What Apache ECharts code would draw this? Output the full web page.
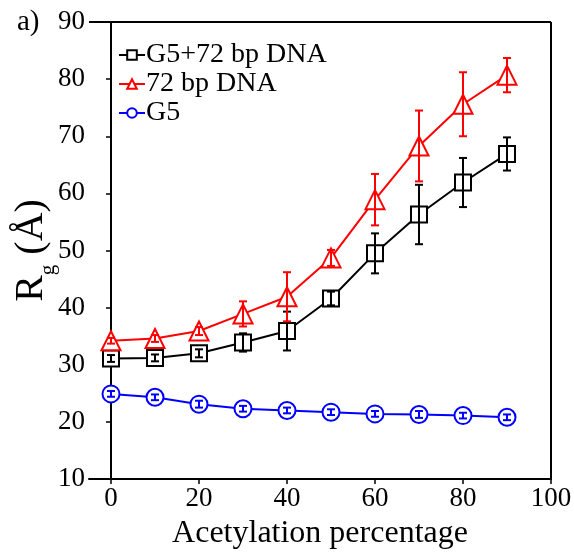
<!DOCTYPE html>
<html>
<head>
<meta charset="utf-8">
<script src="https://cdn.jsdelivr.net/npm/echarts@6/dist/echarts.min.js"></script>
<style>html,body{margin:0;padding:0;background:#fff;}#c{width:574px;height:552px;}</style>
</head>
<body>
<div id="c"></div>
<script>
const xValues = [0, 10, 20, 30, 40, 50, 60, 70, 80, 90];
const g5dna = [31.1, 31.2, 32.0, 33.9, 35.9, 41.6, 49.5, 56.3, 61.9, 66.9];
const g5dnaErr = [0.6, 0.6, 0.7, 1.6, 3.4, 1.2, 3.5, 5.2, 4.3, 2.9];
const dna = [34.2, 34.6, 35.9, 38.9, 41.9, 48.7, 58.9, 68.3, 75.6, 80.7];
const dnaErr = [0.5, 0.6, 0.7, 2.2, 4.3, 1.4, 4.5, 6.2, 5.6, 3.0];
const g5 = [24.9, 24.3, 23.1, 22.3, 22.0, 21.7, 21.4, 21.3, 21.1, 20.8];
const g5Err = [0.5, 0.5, 0.6, 0.5, 0.5, 0.5, 0.5, 0.6, 0.5, 0.5];
const xTicks = [0, 20, 40, 60, 80, 100];
const names = ['G5+72 bp DNA', '72 bp DNA', 'G5'];
const colors = ['#000000', '#ff0000', '#0000ff'];

const FONT = '"Liberation Serif", "Times New Roman", serif';

function pts(vals) { return xValues.map((x, i) => [x, vals[i]]); }
function errData(vals, errs) { return xValues.map((x, i) => [x, vals[i] - errs[i], vals[i] + errs[i]]); }

function errSeries(vals, errs, color) {
  return {
    type: 'custom',
    data: errData(vals, errs),
    z: 5,
    silent: true,
    encode: { x: 0, y: [1, 2] },
    renderItem: function (params, api) {
      const x = api.value(0);
      const lo = api.coord([x, api.value(1)]);
      const hi = api.coord([x, api.value(2)]);
      const w = 4;
      const style = { stroke: color, lineWidth: 2 };
      return {
        type: 'group',
        children: [
          { type: 'line', shape: { x1: lo[0], y1: lo[1], x2: hi[0], y2: hi[1] }, style: style },
          { type: 'line', shape: { x1: lo[0] - w, y1: lo[1], x2: lo[0] + w, y2: lo[1] }, style: style },
          { type: 'line', shape: { x1: hi[0] - w, y1: hi[1], x2: hi[0] + w, y2: hi[1] }, style: style }
        ]
      };
    }
  };
}

function lineSeries(name, vals, color, symbol, size) {
  return {
    name: name,
    type: 'line',
    data: pts(vals),
    symbol: symbol,
    symbolSize: size,
    showAllSymbol: true,
    z: 3,
    lineStyle: { color: color, width: 2 },
    itemStyle: { color: '#ffffff', borderColor: color, borderWidth: 2 },
    emphasis: { disabled: true }
  };
}

const chart = echarts.init(document.getElementById('c'), null, { renderer: 'canvas' });
chart.setOption({
  animation: false,
  backgroundColor: '#ffffff',
  textStyle: { fontFamily: FONT },
  graphic: [
    { type: 'text', left: 17, top: 8, style: { text: 'a)', font: '29px ' + FONT, fill: '#000' } }
  ],
  grid: { left: 89, right: 23, top: 22, bottom: 73, containLabel: false, outerBoundsMode: 'none' },
  legend: {
    data: names,
    orient: 'vertical',
    left: 113,
    top: 36,
    itemGap: 1,
    itemWidth: 26,
    itemHeight: 12,
    textStyle: { fontFamily: FONT, fontSize: 28, color: '#000', padding: [0, 0, 0, -4] }
  },
  xAxis: {
    type: 'value',
    min: -5,
    max: 100,
    name: 'Acetylation percentage',
    nameLocation: 'middle',
    nameGap: 39,
    nameMoveOverlap: false,
    nameTextStyle: { fontFamily: FONT, fontSize: 32, color: '#000' },
    axisLine: { show: true, onZero: false, lineStyle: { color: '#000', width: 2 } },
    axisTick: { show: true, inside: false, length: 5, customValues: xTicks, lineStyle: { color: '#000', width: 1.5 } },
    axisLabel: { customValues: xTicks, fontFamily: FONT, fontSize: 27, color: '#000', margin: 6 },
    splitLine: { show: false }
  },
  yAxis: {
    type: 'value',
    min: 10,
    max: 90,
    interval: 10,
    name: '{r|R}{g|g}{r| (Å)}',
    nameLocation: 'middle',
    nameGap: 38,
    nameMoveOverlap: false,
    nameRotate: 90,
    nameTextStyle: {
      color: '#000',
      rich: {
        r: { fontFamily: FONT, fontSize: 40, color: '#000', lineHeight: 44, verticalAlign: 'bottom' },
        g: { fontFamily: FONT, fontSize: 21, color: '#000', lineHeight: 44, verticalAlign: 'bottom', padding: [0, 0, -8, 0] }
      }
    },
    axisLine: { show: true, lineStyle: { color: '#000', width: 2 } },
    axisTick: { show: true, inside: false, length: 5, lineStyle: { color: '#000', width: 1.5 } },
    axisLabel: { fontFamily: FONT, fontSize: 27, color: '#000', margin: 4 },
    splitLine: { show: false }
  },
  series: [
    lineSeries(names[0], g5dna, colors[0], 'rect', 16),
    lineSeries(names[1], dna, colors[1], 'triangle', 19),
    lineSeries(names[2], g5, colors[2], 'circle', 17),
    errSeries(g5dna, g5dnaErr, colors[0]),
    errSeries(dna, dnaErr, colors[1]),
    errSeries(g5, g5Err, colors[2]),
    {
      type: 'line', data: [], silent: true,
      markLine: { silent: true, symbol: 'none', label: { show: false },
        lineStyle: { color: '#000', width: 2, type: 'solid' },
        data: [ [{ coord: [-5, 90] }, { coord: [100, 90] }], [{ coord: [100, 10] }, { coord: [100, 90] }] ] }
    }
  ]
});
</script>
</body>
</html>
